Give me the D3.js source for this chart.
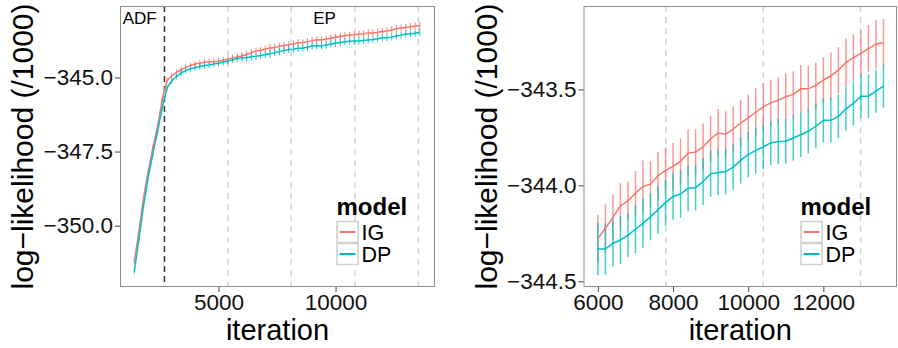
<!DOCTYPE html>
<html>
<head>
<meta charset="utf-8">
<script src="https://cdn.jsdelivr.net/npm/d3@7"></script>
<style>
  body { margin: 0; background: #fff; }
  svg { display: block; font-family: "Liberation Sans", Arial, Helvetica, sans-serif; }
</style>
</head>
<body>
<div id="app"></div>
<script>
const WIDTH = 898;
const HEIGHT = 348;

const COLORS = { IG: '#F8766D', DP: '#00BFC4' };

// iterations, every 200 from 1400 to 13600
const iterations = d3.range(1400, 13601, 200);

const igMean = [
  -351.20, -350.20, -349.05, -348.15, -347.35, -346.65, -345.72, -345.10, -344.95, -344.83,
  -344.74, -344.66, -344.60, -344.55, -344.52, -344.49, -344.47, -344.46, -344.45, -344.42,
  -344.39, -344.34, -344.30,
  -344.277, -344.224, -344.167, -344.107, -344.081, -344.041, -344.006, -343.994, -343.950, -343.922,
  -343.901, -343.875, -343.832, -343.826, -343.800, -343.758, -343.727, -343.734, -343.707, -343.675,
  -343.648, -343.619, -343.591, -343.570, -343.556, -343.538, -343.526, -343.497, -343.497, -343.479,
  -343.451, -343.430, -343.399, -343.360, -343.334, -343.312, -343.287, -343.264, -343.255
];
const igErr = [
  0.08, 0.08, 0.08, 0.08, 0.08, 0.08, 0.09, 0.10, 0.10, 0.10,
  0.10, 0.10, 0.10, 0.10, 0.10, 0.10, 0.10, 0.10, 0.10, 0.10,
  0.10, 0.11, 0.11,
  0.123, 0.125, 0.120, 0.118, 0.100, 0.115, 0.136, 0.120, 0.125, 0.118,
  0.122, 0.120, 0.125, 0.118, 0.122, 0.120, 0.125, 0.120, 0.118, 0.122,
  0.120, 0.125, 0.122, 0.120, 0.118, 0.122, 0.120, 0.125, 0.122, 0.120,
  0.118, 0.122, 0.120, 0.125, 0.122, 0.120, 0.122, 0.125, 0.122
];

const dpMean = [
  -351.55, -350.45, -349.30, -348.35, -347.55, -346.80, -346.00, -345.35, -345.12, -344.97,
  -344.85, -344.77, -344.71, -344.67, -344.63, -344.60, -344.58, -344.55, -344.52, -344.49,
  -344.45, -344.40, -344.36,
  -344.332, -344.332, -344.303, -344.285, -344.259, -344.229, -344.198, -344.163, -344.128, -344.090,
  -344.058, -344.045, -344.015, -344.013, -343.980, -343.940, -343.933, -343.928, -343.905, -343.870,
  -343.840, -343.818, -343.800, -343.779, -343.772, -343.770, -343.753, -343.736, -343.718, -343.692,
  -343.661, -343.661, -343.640, -343.601, -343.573, -343.535, -343.535, -343.509, -343.483
];
const dpErr = [
  0.08, 0.08, 0.08, 0.08, 0.08, 0.08, 0.09, 0.10, 0.10, 0.10,
  0.10, 0.10, 0.10, 0.10, 0.10, 0.10, 0.10, 0.10, 0.10, 0.10,
  0.10, 0.11, 0.12,
  0.137, 0.135, 0.122, 0.125, 0.114, 0.125, 0.128, 0.122, 0.125, 0.120,
  0.122, 0.125, 0.120, 0.118, 0.122, 0.120, 0.118, 0.120, 0.118, 0.120,
  0.118, 0.120, 0.118, 0.116, 0.118, 0.116, 0.118, 0.116, 0.115, 0.116,
  0.115, 0.116, 0.114, 0.115, 0.114, 0.113, 0.114, 0.113, 0.113
];

const leftEpochs = [5400, 8100, 10830, 13540];
const leftAdfEnd = 2690;
const rightEpochs = [7810, 10400, 12990];

const leftXTicks = [5000, 10000];
const leftYTicks = [-345.0, -347.5, -350.0];
const rightXTicks = [6000, 8000, 10000, 12000];
const rightYTicks = [-343.5, -344.0, -344.5];

const series = [
  { model: 'IG', mean: igMean, err: igErr },
  { model: 'DP', mean: dpMean, err: dpErr }
].map(s => ({
  model: s.model,
  values: iterations.map((it, i) => ({ it, y: s.mean[i], e: s.err[i] }))
}));

const svg = d3.select('#app')
  .append('svg')
  .attr('width', WIDTH)
  .attr('height', HEIGHT);

function drawPanel(opts) {
  const { left, right, top, bottom, xDomain, yDomain, xTicks, yTicks, minIter, epochs, adf, barWidth, barOpacity, legendX, yTitleX } = opts;

  const x = d3.scaleLinear().domain(xDomain).range([left, right]);
  const y = d3.scaleLinear().domain(yDomain).range([bottom, top]);

  const g = svg.append('g');

  g.append('rect')
    .attr('x', left).attr('y', top)
    .attr('width', right - left).attr('height', bottom - top)
    .attr('fill', '#fff');

  g.selectAll('line.epoch')
    .data(epochs)
    .join('line')
    .attr('class', 'epoch')
    .attr('x1', d => x(d)).attr('x2', d => x(d))
    .attr('y1', top).attr('y2', bottom)
    .attr('stroke', '#d4d4d4')
    .attr('stroke-width', 1.5)
    .attr('stroke-dasharray', '6,5');

  if (adf) {
    g.append('line')
      .attr('x1', x(adf)).attr('x2', x(adf))
      .attr('y1', top).attr('y2', bottom)
      .attr('stroke', '#333')
      .attr('stroke-width', 1.5)
      .attr('stroke-dasharray', '6,4');
    g.append('text')
      .attr('x', x(1630)).attr('y', 24)
      .attr('text-anchor', 'middle')
      .attr('font-size', 17)
      .text('ADF');
    g.append('text')
      .attr('x', x(9530)).attr('y', 24)
      .attr('text-anchor', 'middle')
      .attr('font-size', 17)
      .text('EP');
  }

  const line = d3.line().x(d => x(d.it)).y(d => y(d.y));

  series.forEach(s => {
    const vals = s.values.filter(d => d.it >= minIter);
    g.append('g')
      .selectAll('line')
      .data(vals)
      .join('line')
      .attr('x1', d => x(d.it)).attr('x2', d => x(d.it))
      .attr('y1', d => y(d.y - d.e)).attr('y2', d => y(d.y + d.e))
      .attr('stroke', COLORS[s.model])
      .attr('stroke-width', barWidth)
      .attr('stroke-opacity', barOpacity);
  });

  series.forEach(s => {
    const vals = s.values.filter(d => d.it >= minIter);
    g.append('path')
      .datum(vals)
      .attr('fill', 'none')
      .attr('stroke', COLORS[s.model])
      .attr('stroke-width', 1.5)
      .attr('d', line);
  });

  g.append('rect')
    .attr('x', left + 0.5).attr('y', top + 0.5)
    .attr('width', right - left - 1).attr('height', bottom - top - 1)
    .attr('fill', 'none')
    .attr('stroke', '#8c8c8c')
    .attr('stroke-width', 1);

  // axes
  const xAxis = g.append('g')
    .attr('transform', `translate(0,${bottom})`)
    .call(d3.axisBottom(x).tickValues(xTicks).tickSize(5).tickPadding(2).tickFormat(d3.format('d')));
  const yAxis = g.append('g')
    .attr('transform', `translate(${left},0)`)
    .call(d3.axisLeft(y).tickValues(yTicks).tickSize(5).tickPadding(2).tickFormat(d => d3.format('.1f')(d).replace('-', '\u2212')));

  [xAxis, yAxis].forEach(a => {
    a.select('.domain').remove();
    a.selectAll('.tick line').attr('stroke', '#444');
    a.selectAll('.tick text')
      .attr('fill', '#111')
      .attr('font-size', 22.5)
      .attr('font-family', '"Liberation Sans", Arial, sans-serif');
  });

  g.append('text')
    .attr('x', (left + right) / 2).attr('y', 340)
    .attr('text-anchor', 'middle')
    .attr('font-size', 29)
    .text('iteration');

  g.append('text')
    .attr('transform', `translate(${yTitleX},${(top + bottom) / 2}) rotate(-90)`)
    .attr('text-anchor', 'middle')
    .attr('font-size', 30)
    .text('log\u2212likelihood (/1000)');

  // legend
  const lg = g.append('g').attr('transform', `translate(${legendX},0)`);
  lg.append('text')
    .attr('x', 0).attr('y', 215)
    .attr('font-size', 24)
    .attr('font-weight', 'bold')
    .text('model');
  ['IG', 'DP'].forEach((m, i) => {
    const ky = 221 + i * 22;
    lg.append('rect')
      .attr('x', 0.5).attr('y', ky + 0.5)
      .attr('width', 21).attr('height', 21)
      .attr('fill', '#fff')
      .attr('stroke', '#d0d0d0')
      .attr('stroke-width', 1.5);
    lg.append('line')
      .attr('x1', 3).attr('x2', 19)
      .attr('y1', ky + 11).attr('y2', ky + 11)
      .attr('stroke', COLORS[m])
      .attr('stroke-width', 2);
    lg.append('text')
      .attr('x', 25).attr('y', ky + 19)
      .attr('font-size', 21.5)
      .text(m);
  });
}

drawPanel({
  left: 120, right: 435, top: 6, bottom: 287,
  xDomain: [790, 14250], yDomain: [-352.07, -342.59],
  xTicks: leftXTicks, yTicks: leftYTicks,
  minIter: 0, epochs: leftEpochs, adf: leftAdfEnd,
  barWidth: 1, barOpacity: 0.9,
  legendX: 336.5, yTitleX: 33
});

drawPanel({
  left: 583.5, right: 897, top: 6, bottom: 287,
  xDomain: [5617, 13960], yDomain: [-344.53, -343.065],
  xTicks: rightXTicks, yTicks: rightYTicks,
  minIter: 6000, epochs: rightEpochs, adf: null,
  barWidth: 1.5, barOpacity: 0.75,
  legendX: 800.5, yTitleX: 497
});
</script>
</body>
</html>
